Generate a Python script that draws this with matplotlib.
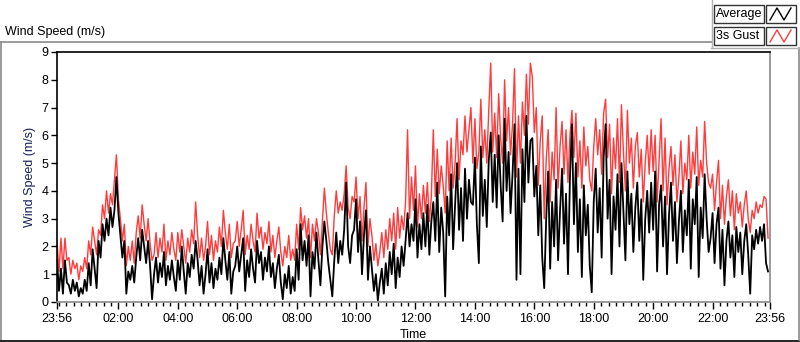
import numpy as np
import matplotlib
matplotlib.use('Agg')
from matplotlib import pyplot as plt
from matplotlib import ticker
from matplotlib.lines import Line2D
from matplotlib.patches import Rectangle

# samples every 4 minutes starting at 23:56, one row = 2 hours
avg = [
    1.5, 0.4, 1.2, 0.3, 1.5, 0.7, 0.6, 0.3, 0.8, 0.4, 0.7, 0.2, 0.5, 0.3, 0.8, 0.4, 1.4, 0.6, 1.9, 1.2, 0.5, 2.2, 1.6, 2.8, 2.2, 3.0, 2.4, 3.4, 2.7, 3.3,
    4.5, 3.2, 2.4, 1.6, 2.2, 0.3, 1.1, 0.8, 1.3, 0.7, 1.6, 2.3, 1.5, 2.6, 2.0, 1.4, 2.2, 1.3, 0.1, 1.0, 1.6, 0.7, 1.4, 0.9, 1.8, 0.6, 1.3, 0.8, 1.5, 0.9,
    0.4, 1.5, 0.8, 2.0, 1.1, 0.3, 1.4, 0.9, 1.7, 1.2, 2.2, 1.5, 0.6, 1.3, 0.3, 1.0, 1.9, 0.7, 1.4, 0.5, 1.2, 0.8, 1.6, 1.0, 2.3, 1.5, 0.8, 1.8, 0.3, 1.1,
    1.3, 2.0, 1.1, 1.7, 2.3, 0.4, 1.5, 0.9, 1.9, 1.2, 0.7, 2.2, 1.4, 1.8, 0.8, 1.6, 1.1, 2.0, 0.9, 1.4, 0.5, 1.2, 1.7, 0.7, 0.1, 1.0, 0.5, 1.3, 0.3, 0.9,
    0.4, 1.9, 0.8, 2.8, 1.5, 2.2, 1.3, 2.4, 0.2, 1.8, 1.2, 2.5, 1.5, 0.6, 2.0, 2.9, 2.2, 1.4, 0.8, 0.2, 1.5, 2.5, 1.4, 2.2, 1.7, 2.6, 4.3, 2.0, 1.4, 2.4,
    2.6, 3.7, 1.8, 2.9, 1.0, 2.4, 3.3, 0.8, 2.0, 1.2, 0.4, 1.0, 0.05, 0.7, 1.2, 0.3, 1.4, 0.6, 1.8, 1.0, 2.1, 0.5, 1.6, 0.9, 2.0, 1.3, 2.2, 3.2, 2.0, 2.8,
    2.2, 3.7, 1.6, 2.8, 1.9, 3.2, 2.0, 3.5, 1.7, 2.9, 3.6, 2.2, 4.3, 1.8, 3.4, 2.5, 0.2, 3.8, 2.4, 4.6, 1.9, 3.5, 5.0, 2.6, 4.1, 2.2, 4.8, 3.0, 4.4, 3.6,
    3.5, 5.2, 2.8, 1.4, 5.6, 3.1, 4.4, 2.7, 5.1, 6.1, 3.6, 5.3, 3.4, 6.0, 4.2, 2.9, 6.6, 4.0, 5.4, 3.2, 4.6, 6.4, 0.8, 4.8, 1.0, 5.5, 3.6, 6.7, 4.3, 5.8,
    5.9, 3.8, 4.9, 2.4, 4.2, 1.6, 0.5, 3.0, 4.7, 1.2, 3.6, 2.0, 4.4, 1.5, 3.3, 4.8, 2.1, 3.9, 1.0, 4.5, 6.4, 2.8, 5.0, 1.8, 3.7, 0.9, 4.2, 2.4, 3.5, 1.3,
    0.35, 3.6, 4.8, 2.5, 4.1, 1.6, 5.2, 6.4, 3.0, 4.4, 1.0, 3.8, 2.6, 4.6, 2.0, 5.0, 3.2, 1.5, 4.7, 2.8, 3.9, 1.8, 3.4, 4.3, 2.2, 3.7, 0.8, 3.0, 4.0, 2.5,
    4.3, 2.6, 4.7, 1.1, 3.5, 4.2, 2.0, 3.8, 1.0, 3.1, 4.3, 2.2, 3.6, 1.4, 2.9, 4.0, 1.8, 3.3, 2.4, 4.4, 1.2, 3.7, 2.8, 4.5, 0.9, 3.4, 2.3, 4.6, 3.0, 1.8,
    2.3, 3.2, 1.4, 2.8, 3.4, 1.2, 2.6, 0.6, 2.2, 2.9, 1.6, 2.4, 0.9, 2.7, 1.8, 2.5, 1.0, 2.2, 2.8, 1.7, 0.3, 2.4, 1.9, 2.6, 2.1, 2.7, 2.2, 2.8, 1.4, 1.1,
]
gust = [
    2.2, 1.1, 2.3, 1.2, 2.3, 1.5, 1.6, 1.0, 1.5, 1.2, 1.4, 0.8, 1.3, 1.1, 1.6, 1.2, 2.2, 1.7, 2.7, 2.2, 1.7, 2.6, 2.4, 3.5, 3.0, 4.0, 3.2, 3.9, 3.5, 4.4,
    5.3, 3.7, 3.0, 2.2, 2.8, 1.3, 2.0, 1.5, 2.2, 1.4, 2.5, 3.1, 2.3, 3.5, 2.8, 2.2, 3.0, 2.1, 1.5, 1.7, 2.5, 1.6, 2.3, 1.8, 2.8, 1.5, 2.2, 1.7, 2.5, 1.9,
    1.5, 2.5, 1.8, 2.6, 2.0, 1.4, 2.3, 1.8, 2.6, 2.1, 3.6, 2.4, 1.6, 2.3, 1.5, 2.0, 2.9, 1.7, 2.4, 1.5, 2.2, 1.8, 2.7, 2.0, 3.3, 2.5, 1.9, 2.8, 1.6, 2.1,
    2.2, 2.9, 2.0, 2.6, 3.3, 1.7, 2.4, 1.9, 2.8, 2.2, 1.8, 3.2, 2.3, 2.7, 1.9, 2.5, 2.1, 2.9, 1.8, 2.4, 1.6, 2.2, 2.7, 1.8, 1.3, 2.0, 1.6, 2.4, 1.5, 1.9,
    1.5, 2.8, 1.9, 3.4, 2.6, 3.1, 2.3, 3.0, 1.6, 2.8, 2.2, 3.0, 2.5, 1.7, 2.9, 4.1, 3.2, 2.5, 1.9, 1.7, 3.1, 4.0, 3.2, 3.6, 3.3, 3.9, 4.9, 3.4, 3.0, 3.8,
    3.6, 4.5, 3.0, 3.8, 2.2, 3.4, 4.3, 2.0, 3.0, 2.4, 1.5, 2.1, 1.3, 1.8, 2.5, 1.6, 2.6, 1.9, 3.0, 2.2, 3.2, 1.9, 3.4, 2.3, 3.1, 2.6, 3.6, 6.2, 3.0, 4.5,
    3.3, 4.9, 2.7, 3.9, 3.0, 4.2, 3.2, 4.3, 2.9, 3.8, 6.2, 3.8, 5.5, 3.9, 4.9, 4.2, 3.2, 5.8, 4.0, 5.9, 4.1, 5.0, 6.6, 4.4, 5.8, 5.3, 6.7, 5.4, 6.2, 7.0,
    5.0, 6.6, 4.8, 5.4, 7.3, 5.2, 6.2, 5.0, 6.9, 8.6, 5.4, 6.8, 5.2, 7.5, 5.9, 5.0, 8.0, 5.8, 7.0, 5.3, 6.4, 8.4, 4.5, 6.7, 5.0, 7.2, 6.0, 8.2, 6.4, 8.6,
    8.1, 6.1, 7.0, 4.2, 5.8, 6.7, 3.0, 5.1, 6.2, 3.6, 5.4, 4.4, 7.0, 4.1, 5.6, 6.5, 4.6, 6.2, 4.3, 6.0, 6.9, 5.2, 6.8, 4.5, 5.8, 4.1, 6.3, 4.9, 5.6, 4.4,
    4.0, 5.6, 6.6, 5.3, 6.2, 4.6, 6.8, 7.3, 5.2, 6.4, 3.9, 5.9, 4.8, 6.6, 4.3, 7.1, 5.4, 4.0, 6.9, 5.0, 5.9, 4.1, 5.6, 6.1, 4.5, 5.5, 3.6, 5.0, 6.0, 4.6,
    6.2, 4.7, 6.0, 3.6, 5.1, 6.6, 4.0, 5.9, 3.5, 4.8, 5.6, 4.2, 5.3, 3.6, 4.5, 5.8, 3.9, 5.0, 4.4, 6.0, 4.1, 5.4, 4.6, 6.3, 4.2, 5.1, 4.5, 6.5, 5.0, 4.3,
    4.1, 4.6, 3.3, 4.3, 5.1, 3.0, 4.2, 2.8, 3.8, 4.4, 3.1, 4.0, 2.6, 3.9, 3.2, 3.6, 2.7, 3.5, 4.0, 3.0, 2.5, 3.3, 3.0, 3.6, 3.2, 3.5, 3.4, 3.8, 3.7, 2.3,
]
STEP_MIN = 4
tick_labels = ['23:56', '02:00', '04:00', '06:00', '08:00', '10:00', '12:00',
               '14:00', '16:00', '18:00', '20:00', '22:00', '23:56']
# minutes after 23:56 for each label
tick_pos = [0] + [124 + 120 * i for i in range(11)] + [1440]

GUST_RED = '#ff3b3b'
NAVY = '#14205a'
FONT = ['Liberation Sans', 'DejaVu Sans']

plt.rcParams['font.family'] = FONT
fig = plt.figure(figsize=(8, 3.42), dpi=100)
W, H = 800, 342

def fx(px):
    return px / W

def fy(py):
    return 1 - py / H

ax = fig.add_axes([fx(57), fy(302), fx(770) - fx(57), fy(52) - fy(302)])
t = np.arange(len(avg)) * STEP_MIN
ax.plot(t, gust, color=GUST_RED, lw=1.0)
ax.plot(t, avg, color='black', lw=1.3)
ax.set_xlim(0, 1440)
ax.set_ylim(0, 9)

ax.set_xticks(tick_pos)
ax.set_xticklabels(tick_labels)
ax.xaxis.set_minor_locator(ticker.FixedLocator(np.arange(4, 1440, 15)))
ax.yaxis.set_major_locator(ticker.MultipleLocator(1))
ax.tick_params(axis='x', which='major', length=5, width=1, labelsize=9, pad=3)
ax.tick_params(axis='x', which='minor', length=3, width=1)
ax.tick_params(axis='y', which='major', length=4, width=1, labelsize=9, pad=2)
ax.set_xlabel('Time', fontsize=9, labelpad=3)
ax.set_ylabel('Wind Speed (m/s)', fontsize=9, color=NAVY, labelpad=4)

for side in ['top', 'left']:
    ax.spines[side].set_color('black')
    ax.spines[side].set_linewidth(1.2)
for side in ['bottom', 'right']:
    ax.spines[side].set_color('#8a8a8a')
    ax.spines[side].set_linewidth(1.2)

# panel frame
fig.add_artist(Line2D([fx(0), fx(712)], [fy(42), fy(42)], color='#8a8a8a', lw=1.2))
fig.add_artist(Line2D([fx(0.5), fx(0.5)], [fy(42), fy(340)], color='#8a8a8a', lw=1.2))
fig.add_artist(Line2D([fx(0), fx(799)], [fy(340.5), fy(340.5)], color='black', lw=1.2))
fig.add_artist(Line2D([fx(798.5), fx(798.5)], [fy(48), fy(340)], color='#8a8a8a', lw=1.2))
fig.add_artist(Line2D([fx(711.5), fx(711.5)], [fy(0), fy(48)], color='#b0b0b0', lw=1.0))
fig.add_artist(Line2D([fx(711), fx(799)], [fy(48), fy(48)], color='#b0b0b0', lw=1.0))

fig.text(fx(5), fy(32), 'Wind Speed (m/s)', fontsize=9, va='center', ha='left')

# legend
entries = [('Average', 'black'), ('3s Gust', GUST_RED)]
for i, (name, col) in enumerate(entries):
    y0 = 5 + 22 * i
    fig.add_artist(Rectangle((fx(714), fy(y0 + 18)), fx(50), fy(0) - fy(18),
                             fill=False, ec='#333333', lw=1))
    fig.text(fx(716), fy(y0 + 9), name, fontsize=9, va='center', ha='left')
    fig.add_artist(Rectangle((fx(766), fy(y0 + 18)), fx(30), fy(0) - fy(18),
                             fill=False, ec='#333333', lw=1))
    zx = [fx(770 + 7 * k) for k in range(4)]
    zy = [fy(y0 + 15), fy(y0 + 3), fy(y0 + 15), fy(y0 + 3)]
    fig.add_artist(Line2D(zx, zy, color=col, lw=1))

fig.savefig('out.png', dpi=100)
